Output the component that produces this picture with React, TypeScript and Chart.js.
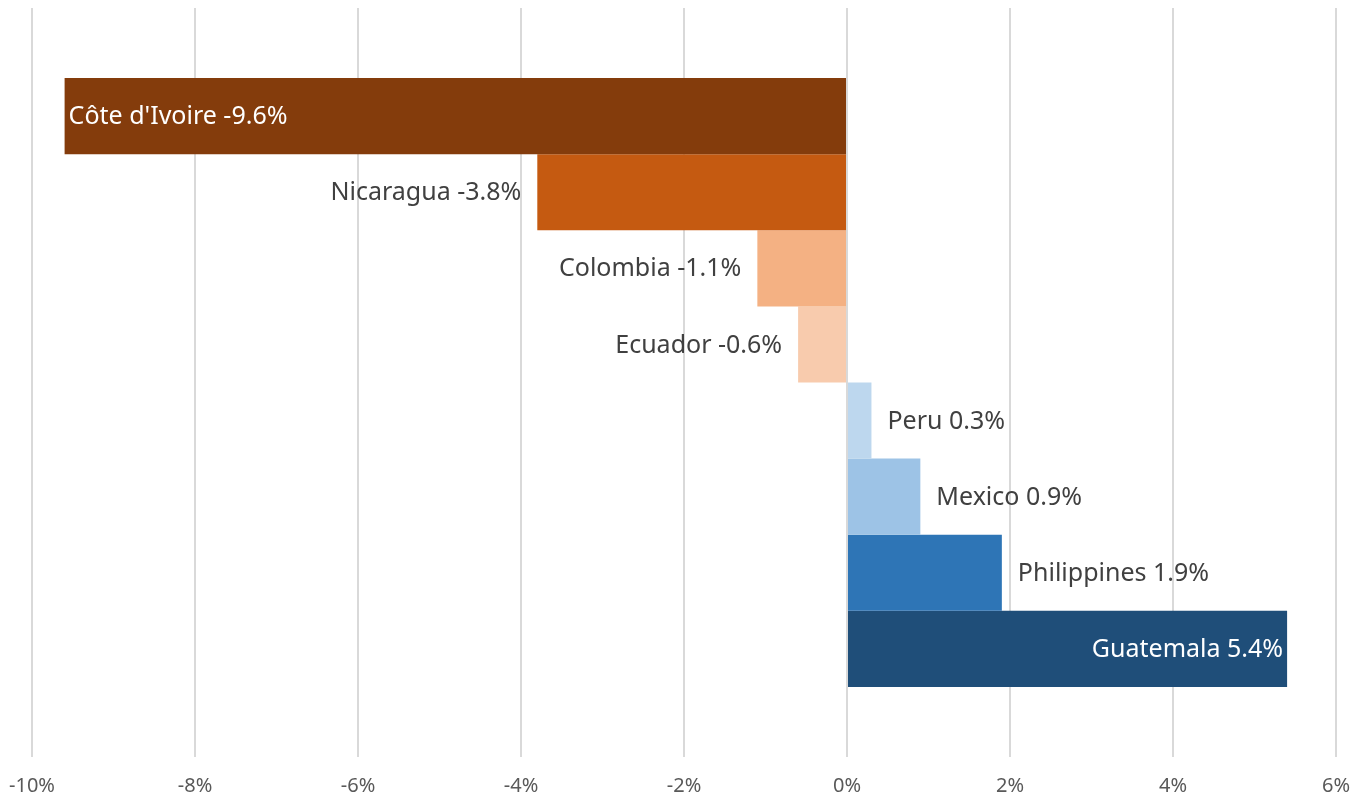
import React, { useEffect, useRef } from "react";
import { Chart, registerables } from "chart.js";

Chart.register(...registerables);

const countries = [
  "Côte d'Ivoire",
  "Nicaragua",
  "Colombia",
  "Ecuador",
  "Peru",
  "Mexico",
  "Philippines",
  "Guatemala",
];
const changes = [-9.6, -3.8, -1.1, -0.6, 0.3, 0.9, 1.9, 5.4];
const barColors = [
  "#843C0C",
  "#C55A11",
  "#F4B183",
  "#F8CBAD",
  "#BDD7EE",
  "#9DC3E6",
  "#2E75B6",
  "#1F4E79",
];
const xMin = -10;
const xMax = 6;
const xStep = 2;

const FONT = "'Noto Sans', 'Open Sans', sans-serif";

const labelPlugin = {
  id: "barLabels",
  afterDatasetsDraw(chart: any) {
    const { ctx, chartArea } = chart;
    ctx.save();
    ctx.font = `25px ${FONT}`;
    ctx.textBaseline = "middle";
    chart.data.datasets.forEach((ds: any, i: number) => {
      const meta = chart.getDatasetMeta(i);
      const el = meta.data[0];
      if (!el) return;
      const v = ds.data[0];
      const text = `${countries[i]} ${v.toFixed(1)}%`;
      const w = ctx.measureText(text).width;
      const gap = 16;
      const y = el.y + 1;
      if (v < 0) {
        const space = el.x - chartArea.left;
        if (space < w + gap) {
          ctx.fillStyle = "#FFFFFF";
          ctx.textAlign = "left";
          ctx.fillText(text, el.x + 4, y);
        } else {
          ctx.fillStyle = "#404040";
          ctx.textAlign = "right";
          ctx.fillText(text, el.x - gap, y);
        }
      } else {
        const space = chartArea.right - el.x;
        if (space < w + gap) {
          ctx.fillStyle = "#FFFFFF";
          ctx.textAlign = "right";
          ctx.fillText(text, el.x - 4, y);
        } else {
          ctx.fillStyle = "#404040";
          ctx.textAlign = "left";
          ctx.fillText(text, el.x + gap, y);
        }
      }
    });
    ctx.restore();
  },
};

export default function App() {
  const canvasRef = useRef<HTMLCanvasElement | null>(null);

  useEffect(() => {
    if (!canvasRef.current) return;
    const chart = new Chart(canvasRef.current, {
      type: "bar",
      data: {
        labels: [""],
        datasets: countries.map((c, i) => ({
          label: c,
          data: [changes[i]],
          backgroundColor: barColors[i],
          borderWidth: 0,
          categoryPercentage: 0.813,
          barPercentage: 1,
        })),
      },
      options: {
        indexAxis: "y",
        animation: false,
        responsive: false,
        maintainAspectRatio: false,
        layout: { padding: { left: 32, right: 30, top: 8, bottom: 0 } },
        plugins: {
          legend: { display: false },
          tooltip: { enabled: false },
        },
        scales: {
          x: {
            type: "linear",
            min: xMin,
            max: xMax,
            afterFit: (scale: any) => {
              scale.height = 41;
              scale.paddingLeft = 0;
              scale.paddingRight = 0;
              scale.paddingTop = 0;
              scale.paddingBottom = 0;
            },
            grid: {
              color: "#D9D9D9",
              lineWidth: 2,
              drawTicks: false,
            },
            border: { display: false },
            ticks: {
              stepSize: xStep,
              padding: 17,
              color: "#595959",
              font: { family: FONT, size: 20 },
              callback: (v: any) => `${v}%`,
            },
          },
          y: {
            display: false,
          },
        },
      },
      plugins: [labelPlugin],
    });
    return () => chart.destroy();
  }, []);

  return (
    <div style={{ position: "absolute", left: 0, top: 0, width: 1366, height: 798, background: "#fff" }}>
      <canvas ref={canvasRef} width={1366} height={798} style={{ width: 1366, height: 798 }} />
    </div>
  );
}
